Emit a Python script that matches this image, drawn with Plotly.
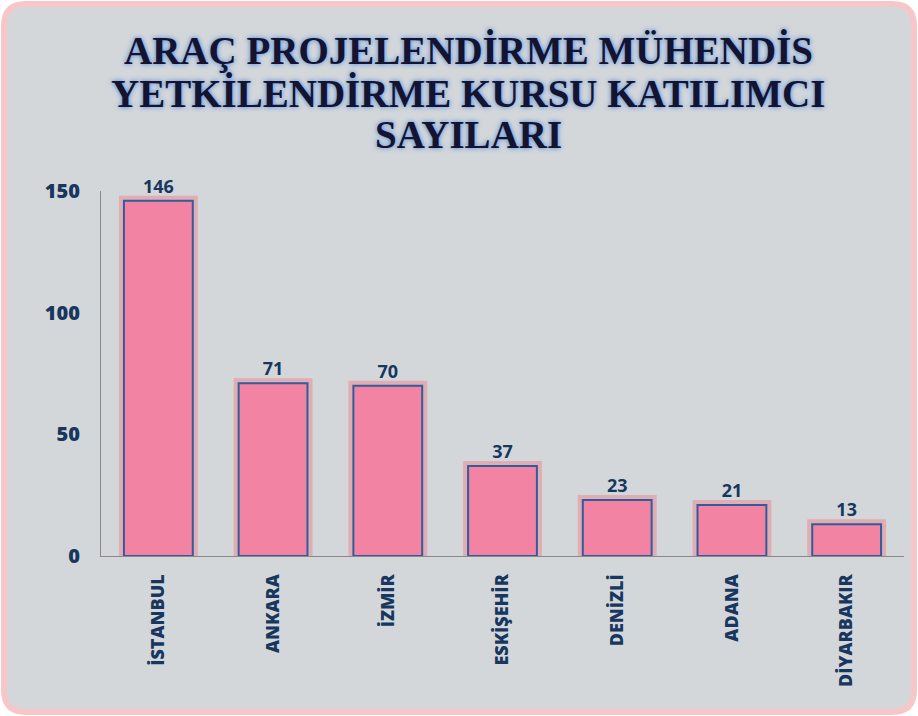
import plotly.graph_objects as go

cities = ["İSTANBUL", "ANKARA", "İZMİR", "ESKİŞEHİR", "DENİZLİ", "ADANA", "DİYARBAKIR"]
participants = [146, 71, 70, 37, 23, 21, 13]
y_ticks = [0, 50, 100, 150]
title_lines = ["ARAÇ PROJELENDİRME MÜHENDİS", "YETKİLENDİRME KURSU KATILIMCI", "SAYILARI"]

W, H = 918, 716
L, R, T, B = 101, 14, 191, 160
pw, ph = W - L - R, H - T - B

def px_x(x):
    return (x - L) / pw

def px_y(y):
    return (H - B - y) / ph

def rounded_path(x0, y0, x1, y1, r):
    pts = []
    pts.append(f"M {px_x(x0 + r)},{px_y(y0)}")
    pts.append(f"L {px_x(x1 - r)},{px_y(y0)}")
    pts.append(f"Q {px_x(x1)},{px_y(y0)} {px_x(x1)},{px_y(y0 + r)}")
    pts.append(f"L {px_x(x1)},{px_y(y1 - r)}")
    pts.append(f"Q {px_x(x1)},{px_y(y1)} {px_x(x1 - r)},{px_y(y1)}")
    pts.append(f"L {px_x(x0 + r)},{px_y(y1)}")
    pts.append(f"Q {px_x(x0)},{px_y(y1)} {px_x(x0)},{px_y(y1 - r)}")
    pts.append(f"L {px_x(x0)},{px_y(y0 + r)}")
    pts.append(f"Q {px_x(x0)},{px_y(y0)} {px_x(x0 + r)},{px_y(y0)}")
    pts.append("Z")
    return " ".join(pts)

navy = "#17375e"
fig = go.Figure()

# glow behind bars
fig.add_trace(go.Bar(
    x=cities, y=participants,
    marker=dict(color="rgba(0,0,0,0)", line=dict(color="rgba(250,95,105,0.35)", width=10)),
    hoverinfo="skip", showlegend=False,
))
fig.add_trace(go.Bar(
    x=cities, y=participants,
    marker=dict(color="#f283a3", line=dict(color="#2f5d9e", width=2)),
    text=[str(v) for v in participants], textposition="outside",
    textfont=dict(family="Open Sans", size=18, color=navy, weight="bold"),
    cliponaxis=False, showlegend=False,
))

title_centers = [51, 93, 134]
annotations = [
    dict(text=t, xref="paper", yref="paper", x=px_x(468), y=px_y(c),
         xanchor="center", yanchor="middle", showarrow=False,
         font=dict(family="Liberation Serif", size=39, color="#141430", weight="bold",
                   shadow="0px 0px 5px #3d7fe0"))
    for t, c in zip(title_lines, title_centers)
]

fig.update_layout(
    width=W, height=H,
    margin=dict(l=L, r=R, t=T, b=B),
    paper_bgcolor="white",
    plot_bgcolor="rgba(0,0,0,0)",
    barmode="overlay",
    bargap=0.4,
    annotations=annotations,
    xaxis=dict(
        showline=True, linecolor="#8a8a8a", linewidth=1,
        tickangle=-90, ticks="", showgrid=False,
        tickfont=dict(family="Open Sans", size=18, color=navy, weight=800),
        ticklabelstandoff=10,
    ),
    yaxis=dict(
        range=[0, 150], tickvals=y_ticks, showline=True, linecolor="#8a8a8a",
        linewidth=1, showgrid=False, zeroline=False, ticks="",
        tickfont=dict(family="Open Sans", size=20, color=navy, weight=800),
        ticklabelstandoff=16,
    ),
    shapes=[dict(
        type="path", xref="paper", yref="paper", layer="below",
        path=rounded_path(4, 4, 914, 712, 22),
        fillcolor="#d3d7da", line=dict(color="#f7c6c8", width=6),
    )],
)

fig.write_html("out.html", config={"displayModeBar": False},
               post_script="document.body.style.margin='0';document.body.style.overflow='hidden';")
